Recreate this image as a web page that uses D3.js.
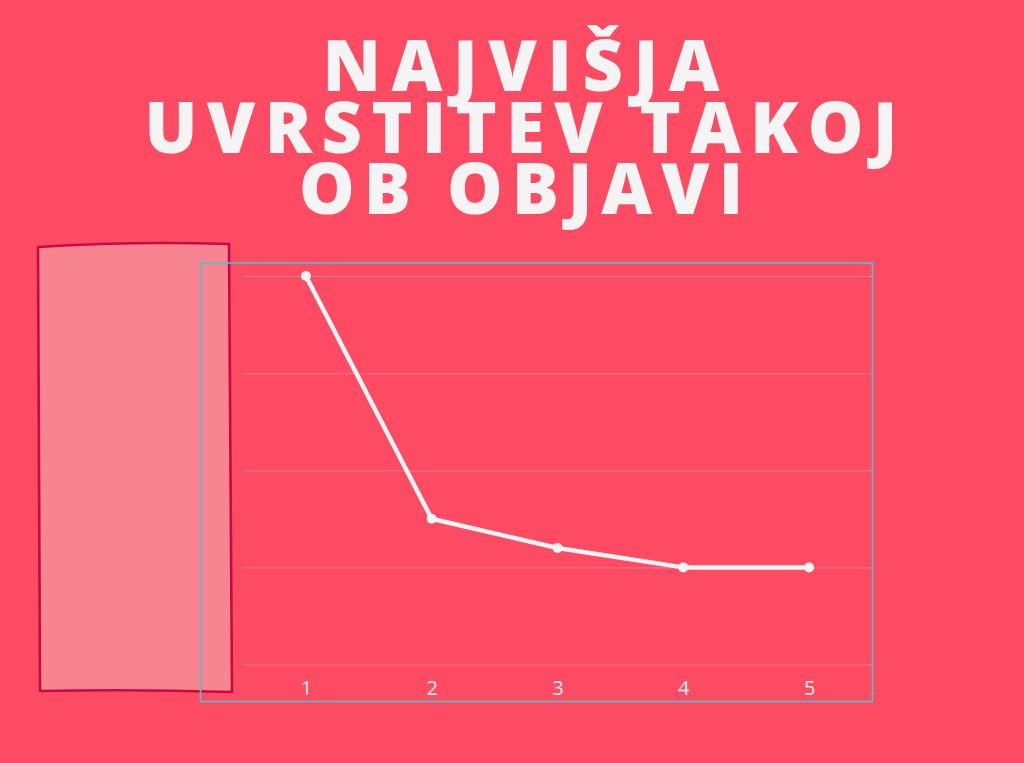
<!DOCTYPE html>
<html>
<head>
<meta charset="utf-8">
<script src="https://cdn.jsdelivr.net/npm/d3@7"></script>
<style>
  html, body { margin: 0; padding: 0; background: #fd4b63; }
  svg { display: block; }
</style>
</head>
<body>
<div id="chart"></div>
<script>
/* ---------- Data ---------- */
const titleLines = ["NAJVIŠJA", "UVRSTITEV TAKOJ", "OB OBJAVI"];
const positions = [1, 2, 3, 4, 5];
const values = [40, 15, 12, 10, 10];
const yTicks = [0, 10, 20, 30, 40];

/* ---------- Layout ---------- */
const W = 1024, H = 763;
const plot = { left: 243, right: 872, top: 276, bottom: 664.5 };

const svg = d3.select("#chart").append("svg")
  .attr("width", W).attr("height", H);

svg.append("rect").attr("width", W).attr("height", H).attr("fill", "#fd4b63");

// title: each line stretched to the width it has in the picture
const titleWidths = [397, 753, 444];
const titleBase = [91, 153, 214];
svg.append("g").selectAll("text")
  .data(titleLines)
  .join("text")
    .attr("x", 521)
    .attr("y", (d, i) => titleBase[i])
    .attr("text-anchor", "middle")
    .attr("textLength", (d, i) => titleWidths[i])
    .attr("lengthAdjust", "spacing")
    .attr("fill", "#f5f4f4")
    .style("font-family", "'Open Sans', 'DejaVu Sans', sans-serif")
    .style("font-weight", 800)
    .style("font-size", "70px")
    .text(d => d);

// hand-drawn pink panel at the left
svg.append("path")
  .attr("d", "M38,247 Q130,241 229,244 L232,692 Q135,689 40,691 Z")
  .attr("fill", "#f7848f")
  .attr("stroke", "#c50c42")
  .attr("stroke-width", 2.6)
  .attr("stroke-linejoin", "round");

/* ---------- Scales ---------- */
const x = d3.scalePoint()
  .domain(positions)
  .range([plot.left, plot.right])
  .padding(0.5);

const y = d3.scaleLinear()
  .domain([0, 40])
  .range([plot.bottom, plot.top]);

// grid
svg.append("g")
  .attr("transform", `translate(${plot.left},0)`)
  .call(d3.axisLeft(y).tickValues(yTicks).tickSize(-(plot.right - plot.left)).tickFormat(""))
  .call(g => g.select(".domain").remove())
  .call(g => g.selectAll(".tick line")
    .attr("stroke", "#ffffff").attr("stroke-opacity", 0.26).attr("stroke-width", 1));

// x axis labels
svg.append("g")
  .attr("transform", `translate(0,${plot.bottom})`)
  .call(d3.axisBottom(x).tickSize(0).tickPadding(16))
  .call(g => g.select(".domain").remove())
  .call(g => g.selectAll("text")
    .attr("fill", "#f8eef0")
    .style("font-family", "'Open Sans', sans-serif")
    .style("font-weight", 400)
    .style("font-size", "20px"));

// line
const pts = positions.map((p, i) => ({ p, v: values[i] }));
svg.append("path")
  .datum(pts)
  .attr("fill", "none")
  .attr("stroke", "#f6f4f4")
  .attr("stroke-width", 4.5)
  .attr("stroke-linejoin", "round")
  .attr("d", d3.line().x(d => x(d.p)).y(d => y(d.v)));

svg.append("g").selectAll("circle")
  .data(pts)
  .join("circle")
    .attr("cx", d => x(d.p))
    .attr("cy", d => y(d.v))
    .attr("r", 5)
    .attr("fill", "#f6f4f4");

// cyan selection frame on top
svg.append("rect")
  .attr("x", 200.5).attr("y", 263)
  .attr("width", 672).attr("height", 438.5)
  .attr("fill", "none")
  .attr("stroke", "#4cc2cf")
  .attr("stroke-width", 1.6);
</script>
</body>
</html>
